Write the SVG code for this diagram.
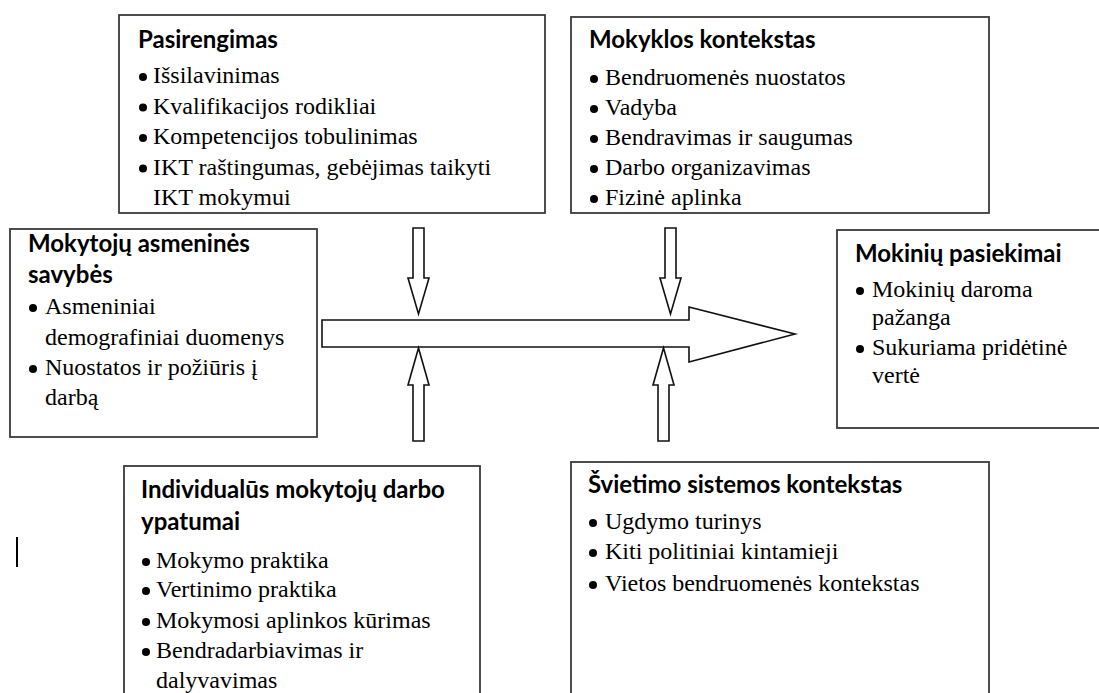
<svg xmlns="http://www.w3.org/2000/svg" width="1099" height="693" viewBox="0 0 1099 693">
<style>
.box{fill:#fff;stroke:#3a3a3a;stroke-width:1.8}
.arr{fill:#fff;stroke:#111;stroke-width:1.6;stroke-linejoin:miter}
.t{font-family:Lato,"Open Sans","Liberation Sans",sans-serif;font-weight:bold;font-size:24px;fill:#000}
.b{font-family:"Liberation Serif","Times New Roman",serif;font-size:24px;fill:#000}
.d{fill:#000}
</style>
<defs>
<clipPath id="c1"><rect x="119" y="15" width="426" height="197"/></clipPath>
<clipPath id="c2"><rect x="571" y="17" width="418" height="195"/></clipPath>
</defs>
<rect x="0" y="0" width="1099" height="693" fill="#fff"/>

<g id="connectors">
<polygon class="arr" points="322,320 689,320 689,307 795,334 689,362 689,347 322,347"/>
<polygon class="arr" points="413,228 424,228 424,278 429,278 418.5,314 408,278 413,278"/>
<polygon class="arr" points="665,228 676,228 676,278 681,278 670.5,314 660,278 665,278"/>
<polygon class="arr" points="418.5,348 429,385 424,385 424,441 413,441 413,385 408,385"/>
<polygon class="arr" points="663.5,348 674,385 669,385 669,441 658,441 658,385 653,385"/>
</g>

<g id="pasirengimas">
<rect class="box" x="119" y="15" width="426" height="198"/>
<g clip-path="url(#c1)">
<text class="t" x="138" y="48">Pasirengimas</text>
<circle class="d" cx="143" cy="77" r="4"/><text class="b" x="153" y="83">Išsilavinimas</text>
<circle class="d" cx="143" cy="107.5" r="4"/><text class="b" x="153" y="113.5">Kvalifikacijos rodikliai</text>
<circle class="d" cx="143" cy="138" r="4"/><text class="b" x="153" y="144">Kompetencijos tobulinimas</text>
<circle class="d" cx="143" cy="168.5" r="4"/><text class="b" x="153" y="174.5">IKT raštingumas, gebėjimas taikyti</text>
<text class="b" x="153" y="205">IKT mokymui</text>
</g>
</g>

<g id="mokyklos">
<rect class="box" x="571" y="17" width="418" height="196"/>
<g clip-path="url(#c2)">
<text class="t" x="589" y="48">Mokyklos kontekstas</text>
<circle class="d" cx="594" cy="79" r="4"/><text class="b" x="605" y="85">Bendruomenės nuostatos</text>
<circle class="d" cx="594" cy="109" r="4"/><text class="b" x="605" y="115">Vadyba</text>
<circle class="d" cx="594" cy="139" r="4"/><text class="b" x="605" y="145">Bendravimas ir saugumas</text>
<circle class="d" cx="594" cy="169" r="4"/><text class="b" x="605" y="175">Darbo organizavimas</text>
<circle class="d" cx="594" cy="199" r="4"/><text class="b" x="605" y="205">Fizinė aplinka</text>
</g>
</g>

<g id="asmenines">
<rect class="box" x="10" y="229" width="307" height="208"/>
<text class="t" x="28" y="252">Mokytojų asmeninės</text>
<text class="t" x="28" y="283">savybės</text>
<circle class="d" cx="33" cy="308" r="4"/><text class="b" x="45" y="314">Asmeniniai</text>
<text class="b" x="45" y="345">demografiniai duomenys</text>
<circle class="d" cx="33" cy="369" r="4"/><text class="b" x="45" y="375">Nuostatos ir požiūris į</text>
<text class="b" x="45" y="405">darbą</text>
</g>

<g id="pasiekimai">
<rect class="box" x="837" y="230" width="270" height="198"/>
<text class="t" x="855" y="262">Mokinių pasiekimai</text>
<circle class="d" cx="860" cy="291" r="4"/><text class="b" x="872" y="297">Mokinių daroma</text>
<text class="b" x="872" y="325">pažanga</text>
<circle class="d" cx="860" cy="349" r="4"/><text class="b" x="872" y="355">Sukuriama pridėtinė</text>
<text class="b" x="872" y="383">vertė</text>
</g>

<g id="individualus">
<rect class="box" x="124" y="466" width="356" height="240"/>
<text class="t" x="141" y="498">Individualūs mokytojų darbo</text>
<text class="t" x="141" y="530">ypatumai</text>
<circle class="d" cx="146" cy="562" r="4"/><text class="b" x="156" y="568">Mokymo praktika</text>
<circle class="d" cx="146" cy="591" r="4"/><text class="b" x="156" y="597">Vertinimo praktika</text>
<circle class="d" cx="146" cy="622" r="4"/><text class="b" x="156" y="628">Mokymosi aplinkos kūrimas</text>
<circle class="d" cx="146" cy="652" r="4"/><text class="b" x="156" y="658">Bendradarbiavimas ir</text>
<text class="b" x="156" y="688">dalyvavimas</text>
</g>

<g id="svietimo">
<rect class="box" x="571" y="462" width="418" height="244"/>
<text class="t" x="588" y="493">Švietimo sistemos kontekstas</text>
<circle class="d" cx="593" cy="523" r="4"/><text class="b" x="605" y="529">Ugdymo turinys</text>
<circle class="d" cx="593" cy="553" r="4"/><text class="b" x="605" y="559">Kiti politiniai kintamieji</text>
<circle class="d" cx="593" cy="585" r="4"/><text class="b" x="605" y="591">Vietos bendruomenės kontekstas</text>
</g>

<rect x="16" y="537" width="2" height="30" fill="#000"/>
</svg>
